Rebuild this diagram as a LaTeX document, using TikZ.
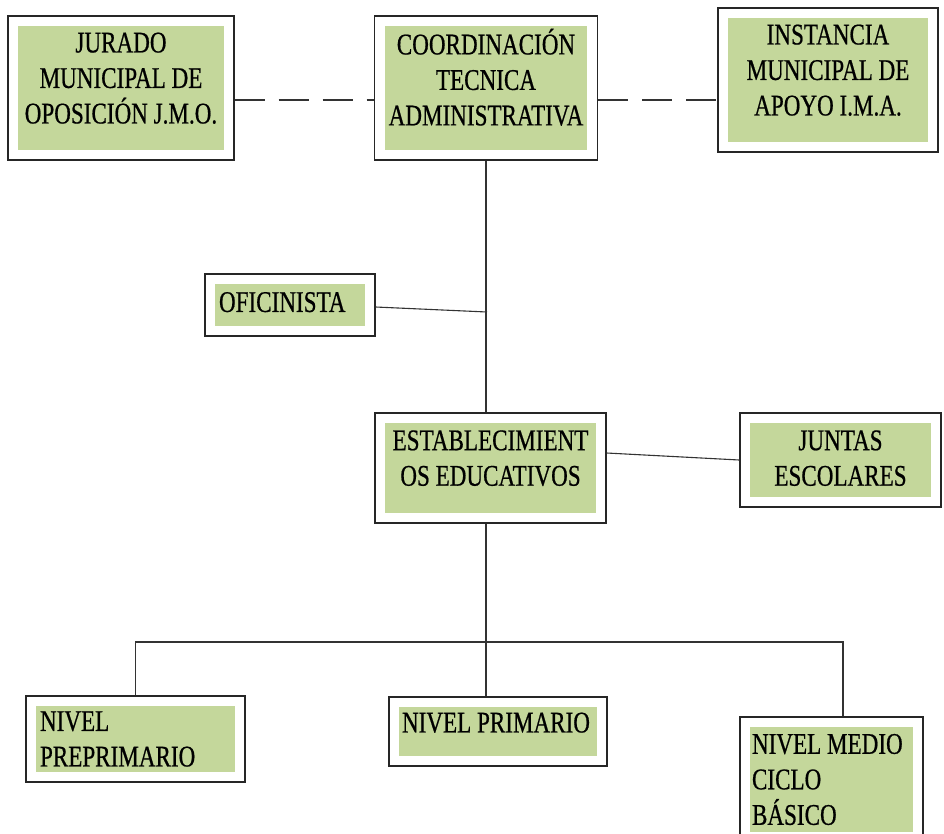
\documentclass[tikz,border=0pt]{standalone}
\usepackage{fontspec}
\setmainfont{Liberation Serif}[FakeStretch=0.77,FakeBold=0.6]
\usetikzlibrary{positioning,calc}
\definecolor{boxgreen}{RGB}{196,215,155}
\newcommand{\plainspace}{\spaceskip=0pt\xspaceskip=0pt\relax}
\tikzset{
    orgbox/.style={draw=black!85,line width=1.4pt,fill=white,align=center,
        font=\fontsize{30}{35.5}\selectfont,inner xsep=14pt,
        execute at begin node=\plainspace,
        path picture={\fill[boxgreen]
            ($(path picture bounding box.south west)+(10pt,10pt)$) rectangle
            ($(path picture bounding box.north east)-(10pt,10pt)$);}},
    leftbox/.style={orgbox,align=left},
    link/.style={draw=black!80,line width=1.1pt},
    dashlink/.style={link,dash pattern=on 30pt off 14pt}
}

\begin{document}
\begin{tikzpicture}[x=1pt,y=-1pt]
    \useasboundingbox (0,0) rectangle (944,833);
    % top row
    \node[orgbox,minimum width=226pt,minimum height=144pt,text depth=20pt] (jmo) at (121,88) {JURADO\\MUNICIPAL DE\\OPOSICIÓN J.M.O.};
    \node[orgbox,minimum width=222pt,minimum height=144pt,text depth=22pt] (cta) at (486,88) {COORDINACIÓN\\TECNICA\\ADMINISTRATIVA};
    \node[orgbox,minimum width=220pt,minimum height=144pt,text depth=20pt] (ima) at (828,80) {INSTANCIA\\MUNICIPAL DE\\APOYO I.M.A.};
    % middle
    \node[leftbox,text width=142pt,inner xsep=14pt,minimum height=62pt,text depth=6pt] (ofi) at (290,305) {OFICINISTA};
    \node[orgbox,minimum width=231pt,minimum height=110pt,text depth=20pt] (est) at (490.5,468) {ESTABLECIMIENT\\OS EDUCATIVOS};
    \node[orgbox,minimum width=201pt,minimum height=94pt,text depth=4pt] (jun) at (840.5,460) {JUNTAS\\ESCOLARES};
    % levels
    \node[leftbox,text width=191pt,inner xsep=14pt,minimum height=86pt] (pre) at (135.5,739) {NIVEL\\PREPRIMARIO};
    \node[leftbox,text width=192pt,inner xsep=13pt,minimum height=69pt,text depth=18pt] (pri) at (498,731.5) {NIVEL PRIMARIO};
    \node[leftbox,text width=159pt,inner xsep=12pt,minimum height=125pt] (med) at (831.5,779.5) {NIVEL MEDIO\\CICLO\\BÁSICO};

    \coordinate (ofij) at (487,312);
    \coordinate (bus) at (487,642);

    \draw[dashlink] ([yshift=-12pt]jmo.east) -- ([yshift=-12pt]cta.west);
    \draw[dashlink] ([yshift=-12pt]cta.east) -- ([yshift=-12pt]cta.east -| ima.west);
    \draw[link] (cta.south) -- (cta.south |- est.north);
    \draw[link] ([yshift=-2pt]ofi.east) -- (ofij);
    \draw[link] ([yshift=15pt]est.east) -- (jun.west);
    \draw[link] (cta.south |- est.south) -- (cta.south |- pri.north);
    \draw[link] (pre.north) |- (bus) -| ([xshift=11.5pt]med.north);
\end{tikzpicture}
\end{document}
